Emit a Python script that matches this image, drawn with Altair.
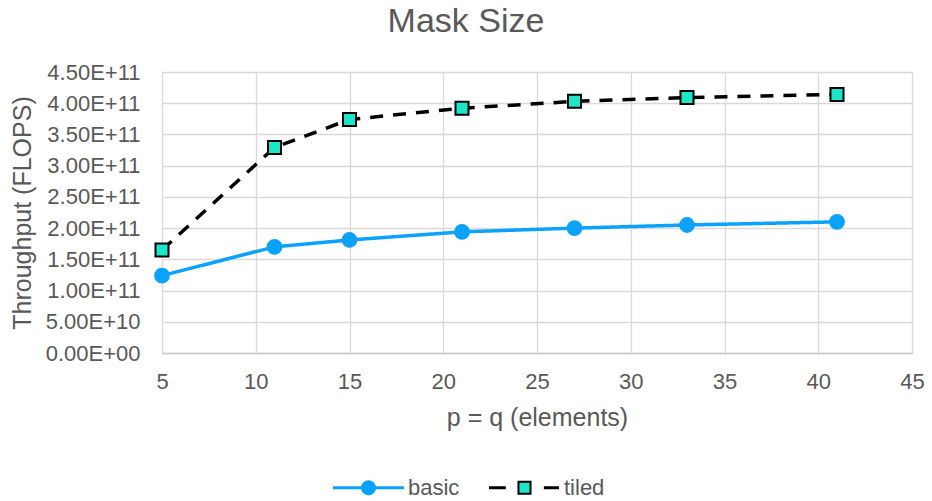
import altair as alt
import pandas as pd

# ---- data ----
p_values = [5, 11, 15, 21, 27, 33, 41]
basic_flops = [1.24e11, 1.70e11, 1.81e11, 1.94e11, 2.00e11, 2.05e11, 2.10e11]
tiled_flops = [1.65e11, 3.29e11, 3.74e11, 3.92e11, 4.03e11, 4.09e11, 4.14e11]
series_names = ["basic", "tiled"]
x_ticks = [5, 10, 15, 20, 25, 30, 35, 40, 45]
y_ticks = [0, 0.5e11, 1.0e11, 1.5e11, 2.0e11, 2.5e11, 3.0e11, 3.5e11, 4.0e11, 4.5e11]

rows = []
for p, v in zip(p_values, basic_flops):
    rows.append({"p": p, "flops": v, "series": "basic"})
for p, v in zip(p_values, tiled_flops):
    rows.append({"p": p, "flops": v, "series": "tiled"})
df = pd.DataFrame(rows)

FONT = "Liberation Sans"
TEXT = "#595959"
BLUE = "#0AA2FA"
CYAN = "#1BE6C9"
BLACK = "#000000"

# legend symbol paths (unit box -1..1), drawn with a 2px outline
basic_path = ("M-1,-0.015H1V0.015H-1Z "
              "M-0.19,0A0.19,0.19 0 1,1 0.19,0A0.19,0.19 0 1,1 -0.19,0Z")
tiled_path = ("M-1,-0.015H-0.57V0.015H-1Z "
              "M-0.175,-0.175H0.175V0.175H-0.175Z "
              "M0.59,-0.015H0.97V0.015H0.59Z")

x_enc = alt.X("p:Q", scale=alt.Scale(domain=[5, 45], nice=False, zero=False),
              axis=alt.Axis(values=x_ticks, title="p = q (elements)", ticks=False,
                            labelFlush=False,
                            labelFont=FONT, labelFontSize=22, labelColor=TEXT,
                            labelPadding=18, titleFont=FONT, titleFontSize=25,
                            titleFontWeight="normal", titleColor=TEXT, titlePadding=13,
                            grid=True, gridColor="#d9d9d9", gridWidth=1.3,
                            domainColor="#c9c9c9", domainWidth=1.3))
y_enc = alt.Y("flops:Q", scale=alt.Scale(domain=[0, 4.5e11], nice=False),
              axis=alt.Axis(values=y_ticks, title="Throughput (FLOPS)", ticks=False,
                            labelExpr="datum.value == 0 ? '0.00E+00' : replace(format(datum.value, '.2e'), 'e', 'E')",
                            labelFlush=False,
                            labelFont=FONT, labelFontSize=22, labelColor=TEXT,
                            labelPadding=22, titleFont=FONT, titleFontSize=25,
                            titleFontWeight="normal", titleColor=TEXT, titlePadding=10,
                            grid=True, gridColor="#d9d9d9", gridWidth=1.3,
                            domain=False))

lines = alt.Chart(df).mark_line(strokeWidth=3.5).encode(
    x=x_enc, y=y_enc,
    stroke=alt.Stroke("series:N", scale=alt.Scale(domain=series_names, range=[BLUE, BLACK]), legend=None),
    strokeDash=alt.StrokeDash("series:N", scale=alt.Scale(domain=series_names, range=[[1, 0], [13, 10]]), legend=None),
)

points = alt.Chart(df).mark_point(filled=True, strokeWidth=2, opacity=1).encode(
    x=x_enc, y=y_enc,
    stroke=alt.Stroke("series:N", scale=alt.Scale(domain=series_names, range=[BLUE, BLACK]), legend=None),
    fill=alt.Fill("series:N", scale=alt.Scale(domain=series_names, range=[BLUE, CYAN]), legend=None),
    shape=alt.Shape("series:N", scale=alt.Scale(domain=series_names, range=["circle", "square"]), legend=None),
    size=alt.Size("series:N", scale=alt.Scale(domain=series_names, range=[190, 170]), legend=None),
)

legend = alt.Legend(
    orient="none", legendX=171, legendY=380, direction="horizontal",
    title=None, labelFont=FONT, labelFontSize=22, labelColor=TEXT,
    symbolSize=4761, labelOffset=4, columnPadding=26,
    symbolOpacity=1, symbolStrokeWidth=2,
)

legend_layer = alt.Chart(df).mark_point(filled=True, opacity=0).encode(
    x=x_enc, y=y_enc,
    shape=alt.Shape("series:N", scale=alt.Scale(domain=series_names, range=[basic_path, tiled_path]), legend=legend),
    fill=alt.Fill("series:N", scale=alt.Scale(domain=series_names, range=[BLUE, CYAN]), legend=legend),
    stroke=alt.Stroke("series:N", scale=alt.Scale(domain=series_names, range=[BLUE, BLACK]), legend=legend),
)

chart = alt.layer(lines, points, legend_layer).resolve_scale(
    shape="independent", fill="independent", stroke="independent"
).properties(
    width=750, height=281,
    autosize="none",
    padding={"left": 162, "top": 72, "right": 20, "bottom": 148},
    title=alt.TitleParams("Mask Size", font=FONT, fontSize=34, fontWeight="normal",
                          color=TEXT, anchor="middle", dx=-71, offset=-5, baseline="alphabetic"),
).configure_view(strokeWidth=0).configure(background="white")

chart.save("out.html", embed_options={"renderer": "svg", "actions": False})
